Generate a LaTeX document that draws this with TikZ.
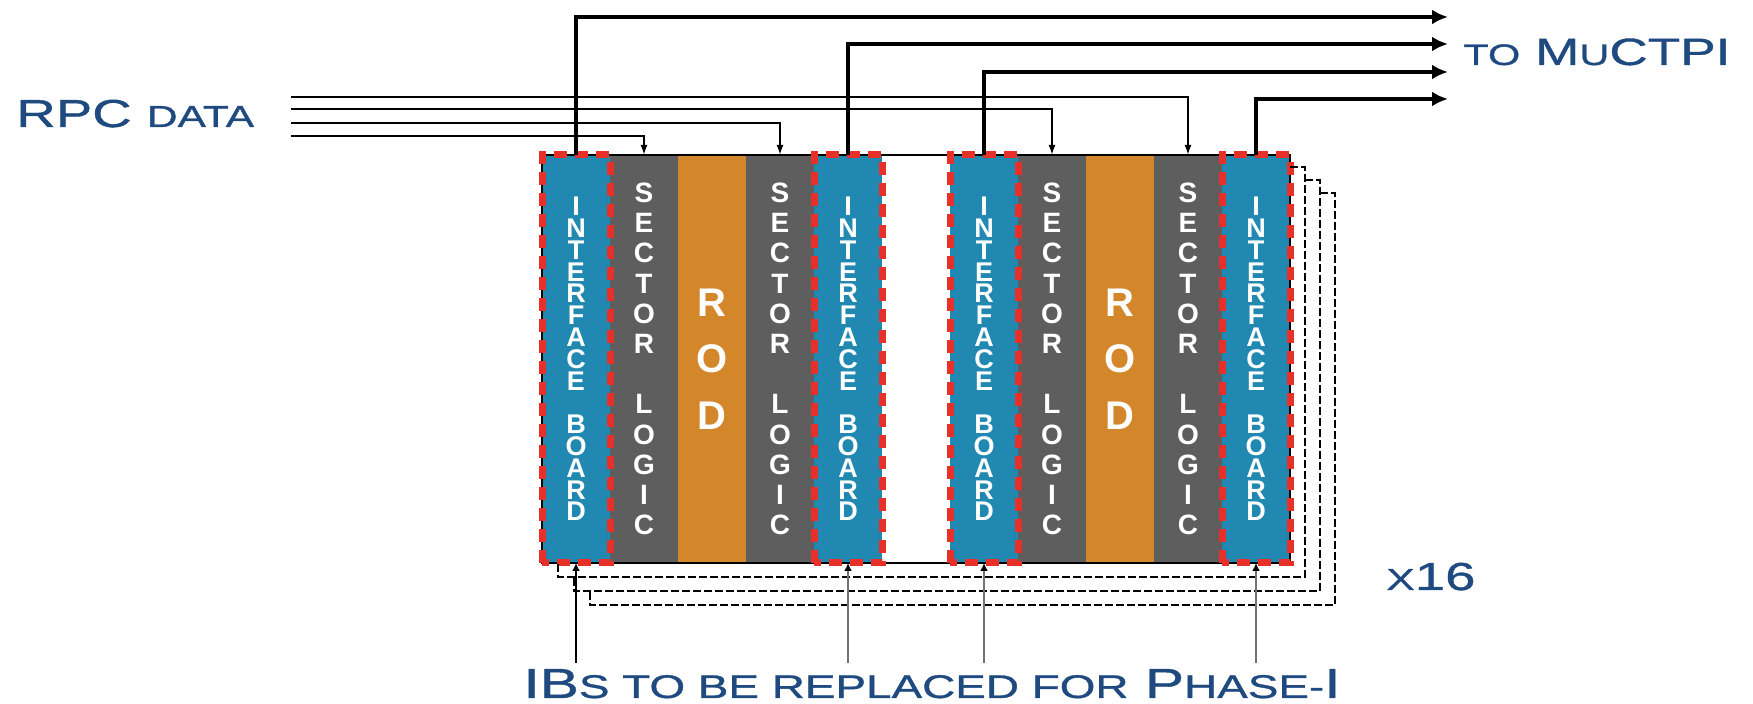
\documentclass[tikz,border=0pt]{standalone}
\usepackage{fontspec}
\setmainfont{Liberation Sans}
\newfontfamily\lblfont[FakeStretch=1.4, FakeBold=1]{Liberation Sans}
\usepackage{graphicx}
\usepackage{xcolor}
\usetikzlibrary{arrows.meta, positioning, calc}
\definecolor{ibblue}{HTML}{2188B2}
\definecolor{slgray}{HTML}{5E5E5E}
\definecolor{rodorange}{HTML}{D3862A}
\definecolor{ibred}{HTML}{E8302A}
\definecolor{txtblue}{HTML}{1F4A80}
\newcommand\smc[1]{\scalebox{0.78}{\MakeUppercase{#1}}}
\newcommand\ibtxt{I\\N\\T\\E\\R\\F\\A\\C\\E\\[10.9pt]B\\O\\A\\R\\D}
\newcommand\sltxt{S\\E\\C\\T\\O\\R\\[15.1pt]L\\O\\G\\I\\C}
\tikzset{
  board/.style   = {minimum width=34pt, minimum height=204pt, inner sep=0pt,
                    outer sep=0pt, align=center, text=white},
  ib/.style      = {board, fill=ibblue, font=\fontsize{13.5}{10.9}\selectfont\bfseries},
  sl/.style      = {board, fill=slgray, font=\fontsize{14}{15.1}\selectfont\bfseries},
  rod/.style     = {board, fill=rodorange, font=\fontsize{20}{28.25}\selectfont\bfseries},
  redbox/.style  = {draw=ibred, line width=3.5pt, dash pattern=on 6.5pt off 4pt},
  crate/.style   = {draw=black, line width=0.8pt},
  stackln/.style = {draw=black, line width=0.7pt, dash pattern=on 4pt off 1.5pt},
  toarr/.style   = {-{Latex[length=8pt,width=7.5pt]}, line width=1.6pt},
  rpcarr/.style  = {-{Latex[length=5pt,width=3.5pt]}, line width=0.9pt},
  ibarr/.style   = {-{Latex[length=4pt,width=4pt,color=black]}, line width=1.2pt, draw=black!55},
  lbl/.style     = {text=txtblue, inner sep=0pt},
}
\begin{document}
\begin{tikzpicture}[x=0.5pt, y=-0.5pt, node distance=0pt]
  \useasboundingbox (0,0) rectangle (1753,704);
  % first crate
  \node[ib] (ib1) at (576,359) {\ibtxt};
  \node[sl, right=of ib1]  (sl1)  {\sltxt};
  \node[rod, right=of sl1] (rod1) {R\\O\\D};
  \node[sl, right=of rod1] (sl2)  {\sltxt};
  \node[ib, right=of sl2]  (ib2)  {\ibtxt};
  % second crate
  \node[ib, right=34pt of ib2] (ib3) {\ibtxt};
  \node[sl, right=of ib3]  (sl3)  {\sltxt};
  \node[rod, right=of sl3] (rod2) {R\\O\\D};
  \node[sl, right=of rod2] (sl4)  {\sltxt};
  \node[ib, right=of sl4]  (ib4)  {\ibtxt};
  \draw[crate] (ib1.north west) rectangle (ib4.south east);
  \foreach \b in {ib1,ib2,ib3,ib4}
    \draw[redbox] (\b.south west) rectangle (\b.north east);
  % copies behind (x16)
  \foreach \k in {1,2,3}
    \draw[stackln] ($(ib4.north east)+(15*\k-15,12+13*\k-13)$)
      -| ($(ib4.south east)+(15*\k,14*\k)$)
      -| ($(ib1.south west)+(16*\k,14*\k-14)$);
  % labels
  \node[lbl, anchor=base west, font=\lblfont\fontsize{19.5}{19.5}\selectfont] (rpc) at (16,127) {RPC \smc{data}};
  \node[lbl, anchor=base west, font=\lblfont\fontsize{19}{19}\selectfont] (muctpi) at (1463,65) {\smc{to} M\smc{u}CTPI};
  \node[lbl, anchor=base west, font=\lblfont\fontsize{19.5}{19.5}\selectfont] (mult) at (1386,590) {\smc{x}16};
  \node[lbl, anchor=base, outer sep=3pt, font=\lblfont\fontsize{21}{21}\selectfont] (phase) at (932,698)
    {IB\smc{s to be replaced for} P\smc{hase-}I};
  % to MuCTPI
  \coordinate (m1) at (1448,17);
  \coordinate (m2) at (1448,44);
  \coordinate (m3) at (1448,72);
  \coordinate (m4) at (1448,99);
  \draw[toarr] (ib1.north) |- (m1);
  \draw[toarr] (ib2.north) |- (m2);
  \draw[toarr] (ib3.north) |- (m3);
  \draw[toarr] (ib4.north) |- (m4);
  % RPC data in
  \coordinate (r1) at (291,97);
  \coordinate (r2) at (291,109);
  \coordinate (r3) at (291,123);
  \coordinate (r4) at (291,136);
  \draw[rpcarr] (r1) -| (sl4.north);
  \draw[rpcarr] (r2) -| (sl3.north);
  \draw[rpcarr] (r3) -| (sl2.north);
  \draw[rpcarr] (r4) -| (sl1.north);
  % IBs to replace
  \draw[ibarr, draw=black] (ib1.south |- phase.north) -- (ib1.south);
  \foreach \b in {ib2,ib3,ib4}
    \draw[ibarr] (\b.south |- phase.north) -- (\b.south);
\end{tikzpicture}
\end{document}
